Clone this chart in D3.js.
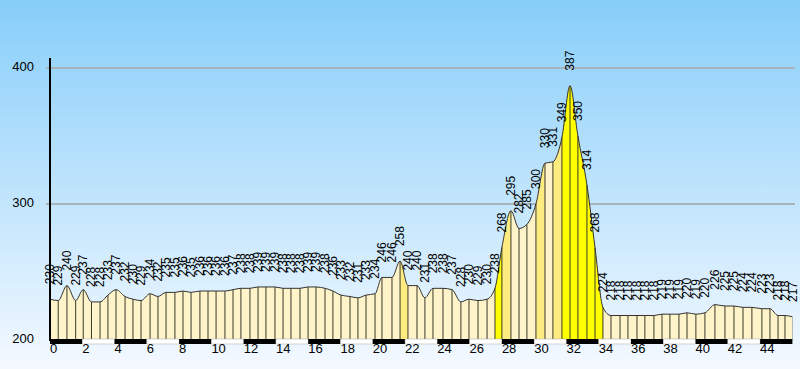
<!DOCTYPE html>
<html><head><meta charset="utf-8">
<script src="https://cdn.jsdelivr.net/npm/d3@7"></script>
<style>html,body{margin:0;padding:0;overflow:hidden;background:#fff}</style>
</head><body>
<svg id="chart" width="800" height="369"></svg>
<script>
// distance along route (km)
const distances = [0.00,0.51,1.05,1.59,2.06,2.57,3.10,3.59,4.09,4.65,
  5.14,5.64,6.20,6.69,7.19,7.74,8.24,8.74,9.29,9.79,
  10.29,10.84,11.34,11.83,12.39,12.89,13.38,13.94,14.44,14.93,
  15.49,15.99,16.48,17.04,17.53,18.03,18.59,19.08,19.58,20.14,
  20.57,21.19,21.69,22.18,22.74,23.23,23.73,24.35,24.91,25.46,
  25.96,26.52,27.08,27.57,28.00,28.56,29.06,29.55,30.11,30.67,
  31.16,31.72,32.22,32.71,33.27,33.77,34.26,34.76,35.32,35.81,
  36.37,36.86,37.42,37.92,38.41,38.97,39.47,40.02,40.58,41.20,
  41.82,42.38,42.94,43.49,44.11,44.61,45.11,45.54,46.02];
// elevation (m)
const elevations = [230,229,240,229,237,228,228,233,237,232,
  230,229,234,232,235,235,236,235,236,236,
  236,236,237,238,238,239,239,239,238,238,
  238,239,239,238,236,233,232,231,233,234,
  246,246,258,240,240,231,238,238,237,228,
  230,229,230,238,268,295,282,285,300,330,
  331,349,387,350,314,268,224,218,218,218,
  218,218,218,219,219,219,220,219,220,226,
  225,225,224,224,223,223,218,218,217];
const xTicks = [0,2,4,6,8,10,12,14,16,18,20,22,24,26,28,30,32,34,36,38,40,42,44];
const yTicks = [200,300,400];
const gradeLimits = [3, 6]; // % thresholds
const gradeColors = ["#fff3c9", "#ffec80", "#ffff00"];

const svg = d3.select("#chart");
const W = 800, H = 369;
const x = d3.scaleLinear().domain([0, 46]).range([50, 792.4]);
const y = d3.scaleLinear().domain([200, 400]).range([340, 68]);

const defs = svg.append("defs");
const bg = defs.append("linearGradient").attr("id","bg").attr("x1",0).attr("y1",0).attr("x2",0).attr("y2",1);
bg.append("stop").attr("offset","0%").attr("stop-color","#87cefa");
bg.append("stop").attr("offset","100%").attr("stop-color","#f4f9ff");
svg.append("rect").attr("width",W).attr("height",H).attr("fill","url(#bg)");

defs.append("clipPath").attr("id","plotclip").append("rect")
  .attr("x",50).attr("y",0).attr("width",x(46)-50).attr("height",340);

// grid lines
svg.append("g").selectAll("line").data(yTicks.filter(d=>d>200)).join("line")
  .attr("x1",46).attr("x2",795).attr("y1",d=>y(d)).attr("y2",d=>y(d))
  .attr("stroke","#a8b4bc").attr("stroke-width",2);

const pts = distances.map((d,i)=>({d, e: elevations[i]}));

// segment colour gradient
const last = distances[distances.length-1];
const segGrad = defs.append("linearGradient").attr("id","seg")
  .attr("gradientUnits","userSpaceOnUse").attr("x1",x(0)).attr("x2",x(last)).attr("y1",0).attr("y2",0);
const span = x(last) - x(0);
for (let i=0;i<pts.length-1;i++){
  const g = Math.abs(pts[i+1].e-pts[i].e)/((pts[i+1].d-pts[i].d)*1000)*100;
  const c = g < gradeLimits[0] ? gradeColors[0] : (g < gradeLimits[1] ? gradeColors[1] : gradeColors[2]);
  const o1 = (x(pts[i].d)-x(0))/span, o2 = (x(pts[i+1].d)-x(0))/span;
  segGrad.append("stop").attr("offset",o1).attr("stop-color",c);
  segGrad.append("stop").attr("offset",o2).attr("stop-color",c);
}

const plot = svg.append("g").attr("clip-path","url(#plotclip)");
const area = d3.area().x(p=>x(p.d)).y0(y(200)).y1(p=>y(p.e)).curve(d3.curveMonotoneX);
const line = d3.line().x(p=>x(p.d)).y(p=>y(p.e)).curve(d3.curveMonotoneX);
plot.append("path").datum(pts).attr("d",area).attr("fill","url(#seg)");
plot.append("g").selectAll("line").data(pts).join("line")
  .attr("x1",p=>x(p.d)).attr("x2",p=>x(p.d)).attr("y1",p=>y(p.e)).attr("y2",y(200))
  .attr("stroke","#3a3a2a").attr("stroke-width",1);
plot.append("path").datum(pts).attr("d",line).attr("fill","none")
  .attr("stroke","#333").attr("stroke-width",1);

// value labels
svg.append("g").selectAll("text").data(pts).join("text")
  .attr("transform",p=>`translate(${Math.min(x(p.d),793)},${y(p.e)-15}) rotate(-90)`)
  .attr("dominant-baseline","central")
  .attr("font-family","Liberation Sans, Arial, sans-serif").attr("font-size",12)
  .attr("fill","#000").text(p=>p.e);

// distance band
const bands = d3.range(0, 46, 2);
svg.append("g").selectAll("rect").data(bands).join("rect")
  .attr("x",d=>x(d)).attr("width",d=>x(d+2)-x(d)).attr("y",339).attr("height",5)
  .attr("fill",(d,i)=>i%2===0?"#000":"#fff").attr("stroke",(d,i)=>i%2===0?"none":"#aaa").attr("stroke-width",0.5);

// y axis
svg.append("line").attr("x1",50).attr("x2",50).attr("y1",58).attr("y2",341)
  .attr("stroke","#000").attr("stroke-width",2);
svg.append("g").selectAll("text").data(yTicks).join("text")
  .attr("x",34).attr("y",d=>y(d)-2).attr("text-anchor","end").attr("dominant-baseline","central")
  .attr("font-family","Liberation Sans, Arial, sans-serif").attr("font-size",13).attr("fill","#000")
  .text(d=>d);
// x tick labels
svg.append("g").selectAll("text").data(xTicks).join("text")
  .attr("x",d=>x(d)).attr("y",353).attr("text-anchor","start")
  .attr("font-family","Liberation Sans, Arial, sans-serif").attr("font-size",13).attr("fill","#000")
  .text(d=>d);
</script>
</body></html>
